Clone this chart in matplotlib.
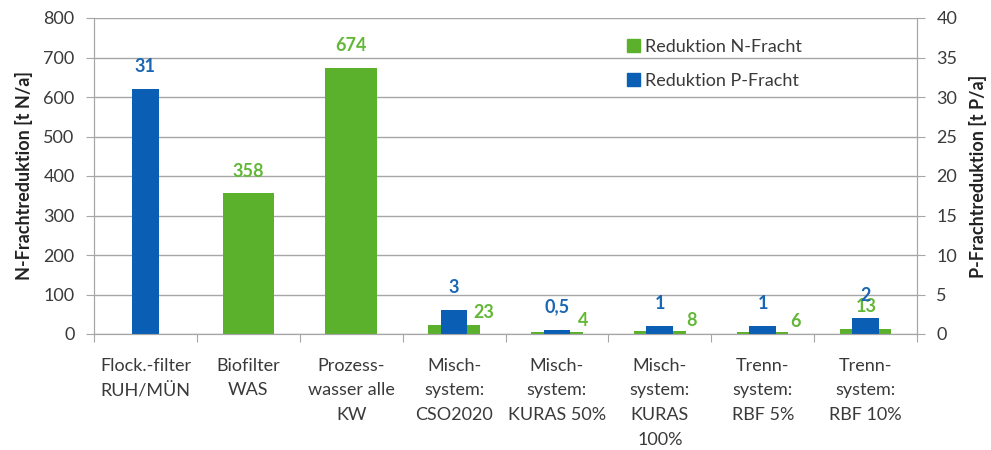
import numpy as np
import matplotlib.pyplot as plt
from matplotlib.patches import Patch

plt.rcParams['font.family'] = ['Lato', 'DejaVu Sans']

categories = ['Flock.-filter\nRUH/MÜN', 'Biofilter\nWAS', 'Prozess-\nwasser alle\nKW',
              'Misch-\nsystem:\nCSO2020', 'Misch-\nsystem:\nKURAS 50%',
              'Misch-\nsystem:\nKURAS\n100%', 'Trenn-\nsystem:\nRBF 5%', 'Trenn-\nsystem:\nRBF 10%']
n_fracht = [0, 358, 674, 23, 4, 8, 6, 13]
p_fracht = [31, 0, 0, 3, 0.5, 1, 1, 2]
n_labels = ['', '358', '674', '23', '4', '8', '6', '13']
p_labels = ['31', '', '', '3', '0,5', '1', '1', '2']

# label offsets in pixels (x, y) relative to bar top
n_off = [(0, 0), (0, 21), (0, 22), (30, 12), (26, 12), (32, 10), (33, 10), (1, 22)]
p_off = [(0, 23)] * 8

green = '#5BB12C'
blue = '#0A5FB4'
green_txt = '#62B836'
blue_txt = '#1A66B3'
grey = '#A6A6A6'
txt = '#3A3A3A'

fig = plt.figure(figsize=(9.91, 4.5), dpi=100)
ax = fig.add_axes([94/991, 1-334/450, (917-94)/991, 316/450])
ax2 = ax.twinx()

x = np.arange(len(categories))
ax.bar(x, n_fracht, width=0.5, color=green, zorder=2)
ax2.bar(x, p_fracht, width=0.26, color=blue, zorder=2)

ax.set_xlim(-0.5, 7.5)
ax.set_ylim(0, 800)
ax2.set_ylim(0, 40)
ax.set_yticks(np.arange(0, 801, 100))
ax2.set_yticks(np.arange(0, 41, 5))
ax.yaxis.grid(True, color=grey, lw=1)
ax.set_axisbelow(True)

ax.set_xticks(np.arange(-0.5, 8, 1))
ax.set_xticklabels([])
ax.set_xticks(x, minor=True)
ax.set_xticklabels(categories, minor=True, fontsize=13, color=txt, linespacing=1.68, va='top')
ax.tick_params(axis='x', which='major', length=6, color=grey)
ax.tick_params(axis='x', which='minor', length=0, pad=17)
ax.tick_params(axis='y', length=6, color=grey, labelsize=13, labelcolor=txt, pad=8)
ax2.tick_params(axis='y', length=6, color=grey, labelsize=13, labelcolor=txt, pad=8)

for a in (ax, ax2):
    a.spines['top'].set_visible(False)
    for s in ('left', 'right', 'bottom'):
        a.spines[s].set_color(grey)

ax.set_ylabel('N-Frachtreduktion [t N/a]', fontsize=13, fontweight='bold', color='#222222')
ax2.set_ylabel('P-Frachtreduktion [t P/a]', fontsize=13, fontweight='bold', color='#222222')
ax.yaxis.set_label_coords(-(94-33)/823, 0.5)
ax2.yaxis.set_label_coords(1+(969-917)/823, 0.5)

k = 0.72
for i in range(len(categories)):
    if n_labels[i]:
        ax.annotate(n_labels[i], (x[i], n_fracht[i]), xytext=(n_off[i][0]*k, n_off[i][1]*k),
                    textcoords='offset points', ha='center', va='center',
                    fontsize=13, fontweight='bold', color=green_txt)
    if p_labels[i]:
        ax2.annotate(p_labels[i], (x[i], p_fracht[i]), xytext=(p_off[i][0]*k, p_off[i][1]*k),
                     textcoords='offset points', ha='center', va='center',
                     fontsize=13, fontweight='bold', color=blue_txt)

handles = [Patch(color=green, label='Reduktion N-Fracht'), Patch(color=blue, label='Reduktion P-Fracht')]
leg = ax2.legend(handles=handles, loc='upper left', bbox_to_anchor=(0.628, 0.985), frameon=False,
                 fontsize=13, handlelength=0.7, handleheight=0.7, handletextpad=0.3,
                 labelspacing=1.0, labelcolor=txt)

fig.savefig('out.png', dpi=100)
